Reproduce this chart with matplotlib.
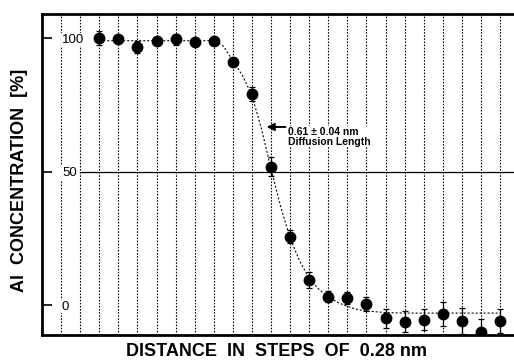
"""
Al concentration profile across an interface
--------------------------------------------
Points with error bars + the fitted diffusion profile (dotted).
Writes out.png
"""

import matplotlib
matplotlib.use("Agg")
import matplotlib.pyplot as plt

# ===========================
# DATA
# ===========================
step = [2, 3, 4, 5, 6, 7, 8, 9, 10, 11, 12, 13, 14, 15, 16, 17, 18, 19, 20, 21, 22, 23]
conc = [100, 99.5, 96.7, 99, 99.5, 98.6, 99, 91, 79, 51.8, 25.6, 9.4,
        3.1, 2.7, 0.3, -5.0, -6.2, -5.4, -3.5, -6.0, -10.2, -6.0]
conc_err = [2.5, 1.5, 2.2, 1.5, 2.0, 1.3, 1.4, 1.5, 2.5, 3.5, 2.5, 3.0,
            2.0, 2.2, 2.7, 3.7, 3.8, 3.8, 4.5, 5.0, 5.0, 4.5]

# fitted profile, sampled along the dotted curve
fit_step = [2, 4, 6, 8, 8.5, 9, 9.5, 10, 10.5, 11, 11.5, 12, 12.5, 13,
            13.5, 14, 14.5, 15, 15.5, 16, 17, 18, 20, 23]
fit_conc = [99, 99, 99, 99, 97, 91.5, 86, 78.5, 66, 51, 37, 25, 16.5, 10,
            6, 3, 1, -0.5, -1.6, -2.2, -2.8, -3, -3, -3]

ytick_vals = [0, 50, 100]
ytick_labels = ["0", "50", "100"]
grid_steps = list(range(0, 24))

# ===========================
# SETTINGS
# ===========================
W, H, DPI = 514, 362, 100
FONT = "Liberation Sans"

plt.rcParams["font.family"] = FONT

fig = plt.figure(figsize=(W / DPI, H / DPI), dpi=DPI)
ax = fig.add_axes([42 / W, 27 / H, 1 - 42 / W, (335 - 14) / H])

# vertical dotted grid at every step
ax.set_xticks(grid_steps)
ax.set_xticklabels([])
ax.tick_params(axis="x", length=0)
ax.grid(axis="x", color="black", linestyle=(0, (1.4, 1.4)), linewidth=0.8)

# solid line at 50 %
ax.axhline(50, xmin=0.08, xmax=1, color="black", linewidth=0.9)

# fit curve
ax.plot(fit_step, fit_conc, color="black", linestyle=(0, (1.8, 1.8)),
        linewidth=0.8, zorder=3)

# data
ax.errorbar(step, conc, yerr=conc_err, fmt="o", color="black", ms=7.5,
            elinewidth=0.9, capsize=2.5, capthick=0.9, zorder=4)

# annotation
ax.annotate("", xy=(10.62, 66.7), xytext=(11.9, 66.7),
            arrowprops=dict(arrowstyle="-|>", color="black", lw=1.4,
                            mutation_scale=11))
ax.text(11.9, 66.7, "0.61 \u00b1 0.04 nm\nDiffusion Length",
        fontsize=7.5, fontweight="bold", ha="left", va="top",
        linespacing=0.95, zorder=5,
        bbox=dict(facecolor="white", edgecolor="none", pad=0.5))

# axes
ax.set_xlim(-1.0, 23.73)
ax.set_ylim(-11.2, 109)
ax.set_yticks(ytick_vals)
ax.set_yticklabels(ytick_labels, fontsize=9.5)
ax.tick_params(axis="y", direction="in", length=7.5, width=1.2, pad=-14.4)
for lbl in ax.get_yticklabels():
    lbl.set_horizontalalignment("left")
    lbl.set_bbox(dict(facecolor="white", edgecolor="none", pad=0.6))

for side in ["top", "bottom", "left"]:
    ax.spines[side].set_linewidth(2)
ax.spines["right"].set_visible(False)

fig.text(277 / W, 1 - 352 / H, "DISTANCE  IN  STEPS  OF  0.28 nm",
         fontsize=13, fontweight="bold", ha="center", va="center")
fig.text(20 / W, 1 - 180 / H, "Al  CONCENTRATION  [%]", rotation=90,
         fontsize=13, fontweight="bold", ha="center", va="center")

fig.savefig("out.png", dpi=DPI)
print("[INFO] saved out.png")
